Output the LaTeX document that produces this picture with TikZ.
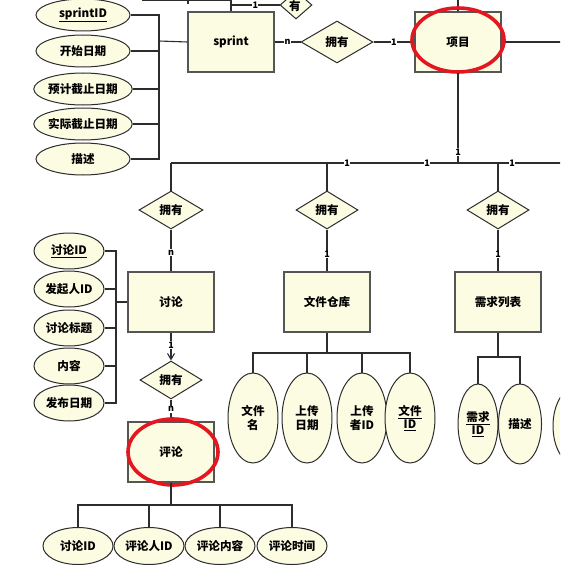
\documentclass[tikz,border=0pt]{standalone}
\usepackage{fontspec}
\setmainfont{Noto Sans CJK SC}
\usetikzlibrary{shapes.geometric,arrows.meta}
\definecolor{cream}{RGB}{252,252,226}
\definecolor{edge}{RGB}{45,45,45}
\definecolor{boxedge}{RGB}{85,85,85}
\definecolor{mark}{RGB}{228,22,32}

\begin{document}
\begin{tikzpicture}[x=1pt,y=-1pt,
  txt/.style={font=\fontsize{11.6}{13.5}\selectfont\bfseries},
  entity/.style={txt, draw=boxedge, fill=cream, line width=1.4pt,
    minimum width=86pt, minimum height=60pt, inner sep=0pt},
  rel/.style={txt, diamond, draw=edge, fill=cream, line width=1pt,
    minimum width=64pt, minimum height=38pt, inner sep=0pt},
  attr/.style={txt, ellipse, draw=edge, fill=cream, line width=1pt,
    inner sep=0pt, align=center},
  wide/.style={attr, minimum width=70pt, minimum height=36pt},
  tall/.style={attr, minimum width=50pt, minimum height=90pt},
  link/.style={draw=edge, line width=1.1pt},
  card/.style={fill=white, inner sep=0.6pt, font=\fontsize{9}{10}\selectfont\bfseries},
  ring/.style={draw=mark, line width=3.6pt}
]
\useasboundingbox (0,0) rectangle (569,578);
\fill[white] (0,0) rectangle (569,578);
\clip (0,0) rectangle (560,578);

% ---------- sprint ----------
\node[entity] (sprint) at (231,42) {sprint};
\node[attr, minimum width=94pt, minimum height=32pt] (s1) at (83,15)  {\underline{sprintID}};
\node[attr, minimum width=94pt, minimum height=32pt] (s2) at (83,51)  {开始日期};
\node[attr, minimum width=94pt, minimum height=32pt] (s3) at (83,89)  {预计截止日期};
\node[attr, minimum width=94pt, minimum height=32pt] (s4) at (83,124) {实际截止日期};
\node[attr, minimum width=94pt, minimum height=32pt] (s5) at (83,159) {描述};
\coordinate (sj) at (159,41);
\foreach \a in {s1,s2,s3,s4,s5} \draw[link] (\a.east) -| (sj);
\draw[link] (sj) -- (sprint.west);

% relation running past the top edge
\node[diamond, draw=edge, fill=cream, line width=1pt, minimum width=32pt,
  minimum height=28pt, inner sep=0pt] (has0) at (296,5) {};
\node[txt, inner sep=0pt] (has0t) at (295,6) {有};
\coordinate (topL) at (142,0.5);
\coordinate (topU) at (231,-6);
\coordinate (tick) at (188,4);
\draw[link] (topL) -- (sprint.north |- topL);
\draw[link] (tick) -- (tick |- topL);
\draw[link] (sprint.north) -- (topU);
\draw[link] (sprint.north |- has0.west) -- node[card, inner sep=0.3pt] {1} (has0.west);

% ---------- 项目 ----------
\node[rel, minimum width=72pt, minimum height=42pt] (r0) at (337,42) {拥有};
\node[entity] (proj) at (458,42) {项目};
\draw[link] (sprint.east) -- node[card] {n} (r0.west);
\draw[link] (r0.east) -- node[card] {1} (proj.west);
\coordinate (projU) at (458,-6);
\coordinate (projR) at (575,42);
\draw[link] (proj.north) -- (projU);
\draw[link] (proj.east) -- (projR);
\draw[ring] (458,40) ellipse [x radius=46pt, y radius=32pt];

% bus below 项目
\coordinate (pj) at (458,163);
\coordinate (bL) at (171,163);
\coordinate (bR) at (575,163);
\draw[link] (proj.south) -- node[card, pos=0.88] {1} (pj);
\draw[link] (bL) -- (bR);
\node[card] at (347,163) {1};
\node[card] at (427,163) {1};
\node[card] at (512,163) {1};

% ---------- branch relations ----------
\node[rel] (r1) at (171,210) {拥有};
\node[rel, minimum width=62pt] (r2) at (327,210) {拥有};
\node[rel, minimum width=62pt] (r3) at (498,210) {拥有};
\draw[link] (bL) -- (r1.north);
\draw[link] (r2.north |- bL) -- (r2.north);
\draw[link] (r3.north |- bL) -- (r3.north);

\node[entity] (disc) at (171,302) {讨论};
\node[entity] (repo) at (327,302) {文件仓库};
\node[entity] (req)  at (498,302) {需求列表};
\draw[link] (r1.south) -- node[card, pos=0.55] {n} (disc.north);
\draw[link] (r2.south) -- node[card, pos=0.6] {1} (repo.north);
\draw[link] (r3.south) -- node[card, pos=0.6] {1} (req.north);

% ---------- 讨论 attributes ----------
\node[wide] (d1) at (69,251) {\underline{讨论ID}};
\node[wide] (d2) at (69,289) {发起人ID};
\node[wide] (d3) at (69,328) {讨论标题};
\node[wide] (d4) at (69,366) {内容};
\node[wide] (d5) at (69,403) {发布日期};
\coordinate (dj) at (116,302);
\foreach \a in {d1,d2,d3,d4,d5} \draw[link] (\a.east) -| (dj);
\draw[link] (dj) -- (disc.west);

% ---------- 评论 ----------
\node[rel, minimum width=62pt] (r4) at (171,380) {拥有};
\draw[link, -{Straight Barb[length=6pt, width=7pt]}] (disc.south) -- node[card, pos=0.45] {1} (r4.north);
\node[entity] (cmt) at (171,452) {评论};
\draw[link] (r4.south) -- node[card, pos=0.45] {n} (cmt.north);
\draw[ring] (173,452) ellipse [x radius=45pt, y radius=33pt];

\node[wide, minimum height=37pt] (c1) at (78,546)  {讨论ID};
\node[wide, minimum height=37pt] (c2) at (149,546) {评论人ID};
\node[wide, minimum height=37pt] (c3) at (220,546) {评论内容};
\node[wide, minimum height=37pt] (c4) at (292,546) {评论时间};
\coordinate (cj) at (171,505);
\draw[link] (cmt.south) -- (cj);
\foreach \a in {c1,c2,c3,c4} \draw[link] (\a.north) |- (cj);

% ---------- 文件仓库 attributes ----------
\node[tall] (f1) at (253,418) {文件\\名};
\node[tall] (f2) at (307,418) {上传\\日期};
\node[tall] (f3) at (362,418) {上传\\者ID};
\node[tall] (f4) at (410,418) {\underline{文件}\\\underline{ID}};
\coordinate (fj) at (327,353);
\draw[link] (repo.south) -- (fj);
\foreach \a in {f1,f2,f3,f4} \draw[link] (\a.north) |- (fj);

% ---------- 需求列表 attributes ----------
\node[attr, minimum width=40pt, minimum height=80pt] (q1) at (478,424) {\underline{需求}\\\underline{ID}};
\node[attr, minimum width=43pt, minimum height=80pt] (q2) at (520,424) {描述};
\node[attr, minimum width=46pt, minimum height=78pt] (q3) at (576,426) {};
\coordinate (qj) at (498,357);
\draw[link] (req.south) -- (qj);
\foreach \a in {q1,q2} \draw[link] (\a.north) |- (qj);
\end{tikzpicture}
\end{document}
